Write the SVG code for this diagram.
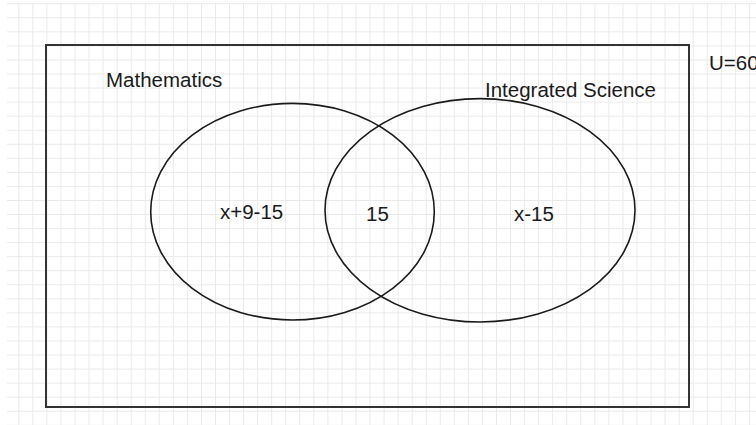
<svg xmlns="http://www.w3.org/2000/svg" width="756" height="425" viewBox="0 0 756 425">
  <defs>
    <pattern id="grid" x="4.25" y="3.3" width="14.05" height="14.05" patternUnits="userSpaceOnUse">
      <path d="M0 0.5 H14.05 M0.5 0 V14.05" fill="none" stroke="#e9e9e9" stroke-width="1"/>
    </pattern>
  </defs>
  <style>
    .lbl { font-family: "Liberation Sans", Arial, sans-serif; font-size: 20.5px; fill: #1a1a1a; }
    .set { fill: none; stroke: #1a1a1a; stroke-width: 1.6; }
  </style>
  <rect x="0" y="0" width="756" height="425" fill="#ffffff"/>
  <rect x="7" y="3" width="749" height="422" fill="url(#grid)"/>
  <g id="universe">
    <rect x="46" y="45" width="643" height="362" fill="none" stroke="#333333" stroke-width="2"/>
  </g>
  <g id="u-label">
    <text class="lbl" x="709" y="70">U=60</text>
  </g>
  <g id="mathematics">
    <ellipse class="set" cx="292.5" cy="211.7" rx="141.8" ry="108.3"/>
    <text class="lbl" x="106" y="87">Mathematics</text>
  </g>
  <g id="science">
    <ellipse class="set" cx="480" cy="210.3" rx="155" ry="111.7"/>
    <text class="lbl" x="485" y="97">Integrated Science</text>
  </g>
  <g id="regions">
    <text class="lbl" x="220" y="219">x+9-15</text>
    <text class="lbl" x="366" y="221">15</text>
    <text class="lbl" x="514" y="221">x-15</text>
  </g>
  <g id="connectors"></g>
</svg>
